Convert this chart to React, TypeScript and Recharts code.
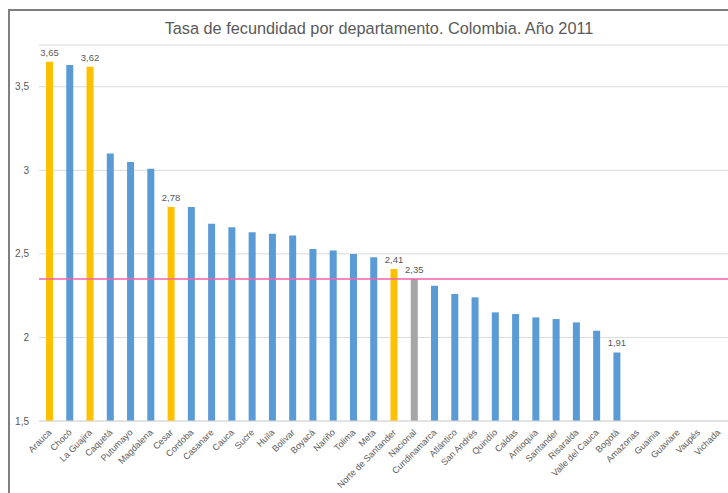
import React from 'react';
import { BarChart, Bar, XAxis, YAxis, CartesianGrid, ReferenceLine, LabelList, Cell } from 'recharts';

const categories = ['Arauca','Chocó','La Guajira','Caquetá','Putumayo','Magdalena','Cesar','Cordoba','Casanare','Cauca','Sucre','Huila','Bolivar','Boyacá','Nariño','Tolima','Meta','Norte de Santander','Nacional','Cundinamarca','Atlántico','San Andrés','Quindío','Caldas','Antioquia','Santander','Risaralda','Valle del Cauca','Bogotá','Amazonas','Guainia','Guaviare','Vaupés','Vichada'];
const values: (number | null)[] = [3.65,3.63,3.62,3.10,3.05,3.01,2.78,2.78,2.68,2.66,2.63,2.62,2.61,2.53,2.52,2.50,2.48,2.41,2.35,2.31,2.26,2.24,2.15,2.14,2.12,2.11,2.09,2.04,1.91,null,null,null,null,null];
const highlighted = ['Arauca','La Guajira','Cesar','Norte de Santander'];
const national = ['Nacional'];
const labeled = ['Arauca','La Guajira','Cesar','Norte de Santander','Nacional','Bogotá'];
const yTicks = [1.5, 2, 2.5, 3, 3.5];
const nationalRate = 2.35;
const title = 'Tasa de fecundidad por departamento. Colombia. Año 2011';

const data = categories.map((c, i) => ({
  name: c,
  value: values[i],
  label: labeled.includes(c) && values[i] != null ? values[i]!.toFixed(2).replace('.', ',') : '',
}));

const colorFor = (c: string) =>
  highlighted.includes(c) ? '#FFC000' : national.includes(c) ? '#A5A5A5' : '#5B9BD5';

const FONT = '"Liberation Sans", Arial, sans-serif';

const XTick = (props: any) => {
  const { x, y, payload } = props;
  const ax = x + 3;
  const ay = y + 4;
  return (
    <text x={ax} y={ay} transform={`rotate(-45, ${ax}, ${ay})`} textAnchor="end" fontSize={9} fill="#595959" fontFamily={FONT}>
      {payload.value}
    </text>
  );
};

const fmtY = (v: number) => String(v).replace('.', ',');

export default function App() {
  return (
    <div style={{ position: 'absolute', left: 8, top: 9, width: 718, height: 484, borderTop: '2px solid #7f7f7f', borderLeft: '2px solid #7f7f7f', overflow: 'hidden', background: '#fff' }}>
      <BarChart width={718} height={490} data={data} margin={{ top: 34, right: 0, bottom: 0, left: 0 }} barCategoryGap={0}>
        <CartesianGrid vertical={false} stroke="#D9D9D9" />
        <XAxis dataKey="name" interval={0} height={80} tick={<XTick />} tickLine={false} axisLine={{ stroke: '#D9D9D9' }} />
        <YAxis width={29} domain={[1.5, 3.75]} ticks={yTicks} allowDataOverflow tickFormatter={fmtY} axisLine={false} tickLine={false} tickMargin={4} tick={{ fontSize: 10, fill: '#595959', fontFamily: FONT }} />
        <Bar dataKey="value" barSize={7} isAnimationActive={false}>
          {data.map((d) => (
            <Cell key={d.name} fill={colorFor(d.name)} />
          ))}
          <LabelList dataKey="label" position="top" offset={6} style={{ fontSize: 9.5, fill: '#595959', fontFamily: FONT }} />
        </Bar>
        <ReferenceLine y={nationalRate} stroke="#F462A9" strokeWidth={1.5} />
      </BarChart>
      <svg width={718} height={484} style={{ position: 'absolute', left: 0, top: 0, pointerEvents: 'none' }}>
        <text x={369} y={23} textAnchor="middle" fontSize={16.3} fill="#595959" fontFamily={FONT}>{title}</text>
      </svg>
    </div>
  );
}
